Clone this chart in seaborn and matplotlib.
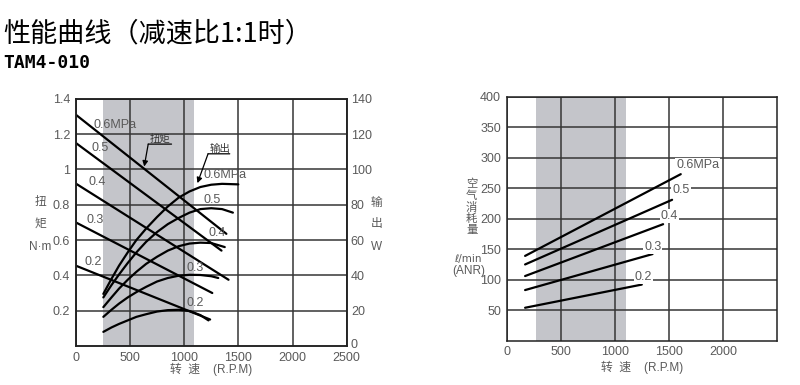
import matplotlib
matplotlib.use("Agg")
import matplotlib.pyplot as plt
import matplotlib.transforms as mtransforms
import pandas as pd
import seaborn as sns

sns.set_theme(style="white")
plt.rcParams['font.family'] = ['Liberation Sans', 'Noto Sans CJK SC', 'DejaVu Sans']
CJK = ['Noto Sans CJK SC', 'DejaVu Sans']

# ---------------- data ----------------
pressures = ["0.6", "0.5", "0.4", "0.3", "0.2"]

# torque lines (N·m) vs speed (RPM)
torque_rpm_06 = [0, 1390]
torque_06 = [1.31, 0.635]
torque_rpm_05 = [0, 1345]
torque_05 = [1.15, 0.54]
torque_rpm_04 = [0, 1410]
torque_04 = [0.92, 0.375]
torque_rpm_03 = [0, 1260]
torque_03 = [0.70, 0.30]
torque_rpm_02 = [0, 1240]
torque_02 = [0.455, 0.15]

# output power curves (W) vs speed (RPM)
power_rpm_06 = [255, 330, 400, 480, 560, 650, 750, 850, 950, 1050, 1150, 1250, 1350, 1500]
power_06 = [29.5, 38, 45.5, 53, 60, 66.5, 73, 79, 84, 87.5, 90, 91.3, 91.8, 91.5]
power_rpm_05 = [255, 330, 400, 480, 560, 650, 750, 850, 950, 1050, 1150, 1250, 1350, 1450]
power_05 = [27.5, 34.5, 40.5, 47, 53, 59, 64.5, 69, 72.5, 75.5, 77.5, 78, 77.5, 75.5]
power_rpm_04 = [255, 330, 400, 480, 560, 650, 750, 850, 950, 1050, 1150, 1250, 1375]
power_04 = [22, 27.5, 32.5, 37.5, 42, 46.5, 50.5, 54, 56.5, 58, 58.5, 58.3, 56]
power_rpm_03 = [255, 330, 400, 480, 560, 650, 750, 850, 950, 1050, 1150, 1250, 1315]
power_03 = [16.5, 20.5, 24, 27.5, 30.5, 33.5, 36.5, 38.5, 39.8, 40.3, 40.2, 39.5, 38.5]
power_rpm_02 = [255, 330, 400, 480, 560, 650, 750, 850, 950, 1050, 1150, 1225]
power_02 = [8, 10.5, 12.5, 14.5, 16.5, 18, 19.5, 20.3, 20.5, 19.8, 17.5, 14.5]

# air consumption lines (l/min ANR) vs speed (RPM)
air_rpm_06 = [170, 1608]
air_06 = [139, 273]
air_rpm_05 = [170, 1528]
air_05 = [125, 231]
air_rpm_04 = [170, 1445]
air_04 = [106, 191]
air_rpm_03 = [170, 1347]
air_03 = [83, 142]
air_rpm_02 = [170, 1248]
air_02 = [54, 92]

left_xticks = [0, 500, 1000, 1500, 2000, 2500]
left_yticks = [0.2, 0.4, 0.6, 0.8, 1.0, 1.2, 1.4]
left_yticklabels = ["0.2", "0.4", "0.6", "0.8", "1", "1.2", "1.4"]
right_w_ticks = [0, 20, 40, 60, 80, 100, 120, 140]
air_xticks = [0, 500, 1000, 1500, 2000]
air_yticks = [50, 100, 150, 200, 250, 300, 350, 400]

band_left = (250, 1090)
band_right = (270, 1100)


def long_df(pairs):
    frames = []
    for p, (xs, ys) in zip(pressures, pairs):
        frames.append(pd.DataFrame({"rpm": xs, "val": ys, "p": p}))
    return pd.concat(frames, ignore_index=True)


torque_df = long_df([(torque_rpm_06, torque_06), (torque_rpm_05, torque_05),
                     (torque_rpm_04, torque_04), (torque_rpm_03, torque_03),
                     (torque_rpm_02, torque_02)])
power_df = long_df([(power_rpm_06, power_06), (power_rpm_05, power_05),
                    (power_rpm_04, power_04), (power_rpm_03, power_03),
                    (power_rpm_02, power_02)])
air_df = long_df([(air_rpm_06, air_06), (air_rpm_05, air_05),
                  (air_rpm_04, air_04), (air_rpm_03, air_03),
                  (air_rpm_02, air_02)])

W, H = 800, 385
fig = plt.figure(figsize=(W / 100, H / 100), dpi=100)

def px_axes(x0, y0, x1, y1):
    return fig.add_axes([x0 / W, 1 - y1 / H, (x1 - x0) / W, (y1 - y0) / H])

GRID = '#363636'
TXT = '#5a5a5a'
BAND = '#c4c5ca'
pal = ['black'] * 5


def style(ax):
    ax.set_facecolor('none')
    for s in ax.spines.values():
        s.set_color('#222222')
        s.set_linewidth(1.1)
    ax.tick_params(length=0, labelsize=9, labelcolor=TXT, pad=4)
    ax.set_xlabel("")
    ax.set_ylabel("")


# ---------------- left chart ----------------
ax = px_axes(75.7, 98.7, 346.7, 346)
ax.axvspan(*band_left, color=BAND, zorder=0, lw=0)
sns.lineplot(data=torque_df, x="rpm", y="val", hue="p", palette=pal, legend=False,
             estimator=None, sort=False, lw=1.6, ax=ax)
ax.set_xlim(0, 2500)
ax.set_ylim(0, 1.4)
ax.set_xticks(left_xticks)
ax.set_yticks(left_yticks)
ax.set_yticklabels(left_yticklabels)
ax.grid(True, color=GRID, lw=1.1)
ax.set_axisbelow(True)
style(ax)

ax2 = ax.twinx()
sns.lineplot(data=power_df, x="rpm", y="val", hue="p", palette=pal, legend=False,
             estimator=None, sort=False, lw=1.6, ax=ax2)
ax2.set_ylim(0, 140)
ax2.set_yticks(right_w_ticks)
ax2.grid(False)
style(ax2)
ax2.tick_params(pad=3)
fig.canvas.draw()
zero_lab = ax2.get_yticklabels()[0]
zero_lab.set_transform(zero_lab.get_transform() +
                       mtransforms.ScaledTranslation(0, 3 / 100, fig.dpi_scale_trans))

lab_kw = dict(fontsize=9, color=TXT, ha='left', va='center')
for txt, x, y in [("0.6MPa", 160, 1.252), ("0.5", 147, 1.12), ("0.4", 116, 0.927),
                  ("0.3", 101, 0.714), ("0.2", 79, 0.478)]:
    ax.text(x, y, txt, **lab_kw)
for txt, x, y in [("0.6MPa", 1175, 97), ("0.5", 1175, 82.8), ("0.4", 1221, 63.9),
                  ("0.3", 1022, 44.4), ("0.2", 1022, 24.2)]:
    ax2.text(x, y, txt, **lab_kw)

arrow_kw = dict(arrowstyle='-|>', color='black', lw=0.9, mutation_scale=8, shrinkA=0, shrinkB=0)
line_kw = dict(arrowstyle='-', color='black', lw=0.9, shrinkA=0, shrinkB=0)
ax.text(776, 1.171, "扭矩", family=CJK, fontsize=7.5, color='#333', ha='center', va='center')
ax.annotate("", xy=(884, 1.143), xytext=(669, 1.143), arrowprops=line_kw)
ax.annotate("", xy=(632, 1.016), xytext=(669, 1.143), arrowprops=arrow_kw)
ax2.text(1328, 111.6, "输出", family=CJK, fontsize=7.5, color='#333', ha='center', va='center')
ax2.annotate("", xy=(1421, 108.8), xytext=(1221, 108.8), arrowprops=line_kw)
ax2.annotate("", xy=(1123, 92.2), xytext=(1221, 108.8), arrowprops=arrow_kw)

# ---------------- right chart ----------------
bx = px_axes(506.7, 96.7, 777.3, 340.7)
bx.axvspan(*band_right, color=BAND, zorder=0, lw=0)
sns.lineplot(data=air_df, x="rpm", y="val", hue="p", palette=pal, legend=False,
             estimator=None, sort=False, lw=1.6, ax=bx)
bx.set_xlim(0, 2500)
bx.set_ylim(0, 400)
bx.set_xticks(air_xticks)
bx.set_yticks(air_yticks)
bx.grid(True, color=GRID, lw=1.1)
bx.set_axisbelow(True)
style(bx)

box = dict(facecolor='white', edgecolor='none', pad=0.8)
for txt, x, y in [("0.6MPa", 1565, 288), ("0.5", 1530, 247), ("0.4", 1424, 204),
                  ("0.3", 1269, 154), ("0.2", 1184, 105)]:
    bx.text(x, y, txt, bbox=box, zorder=3, **lab_kw)

# ---------------- figure texts ----------------
def ftext(x, y, s, **kw):
    fig.text(x / W, 1 - y / H, s, **kw)

ftext(3, 34, "性能曲线（减速比1:1时）", family=CJK, fontsize=19.5, color='black',
      va='center', ha='left')
ftext(3, 62.5, "TAM4-010", family=['DejaVu Sans Mono'], fontweight='bold', fontsize=13,
      color='black', va='center', ha='left')

ax_lab = dict(fontsize=8.5, color=TXT, ha='center', va='center')
ftext(40.7, 201.7, "扭", family=CJK, **ax_lab)
ftext(40.7, 223.3, "矩", family=CJK, **ax_lab)
ftext(40.5, 246.7, "N·m", **ax_lab)
ftext(376.7, 202.3, "输", family=CJK, **ax_lab)
ftext(376.7, 223.3, "出", family=CJK, **ax_lab)
ftext(376.7, 246.7, "W", **ax_lab)

for i, ch in enumerate("空气消耗量"):
    ftext(471.7, 184.5 + i * 11.3, ch, family=CJK, fontsize=8.2, color=TXT,
          ha='center', va='center')
ftext(468, 259, "ℓ/min", family=['DejaVu Sans'], fontsize=7.5, color=TXT, ha='center', va='center')
ftext(469, 271, "(ANR)", fontsize=8.5, color=TXT, ha='center', va='center')

ftext(211, 369.5, "转  速    (R.P.M)", family=['Liberation Sans', 'Noto Sans CJK SC'],
      fontsize=8.5, color=TXT, ha='center', va='center')
ftext(642, 367, "转  速    (R.P.M)", family=['Liberation Sans', 'Noto Sans CJK SC'],
      fontsize=8.5, color=TXT, ha='center', va='center')

fig.savefig("out.png", dpi=100)
